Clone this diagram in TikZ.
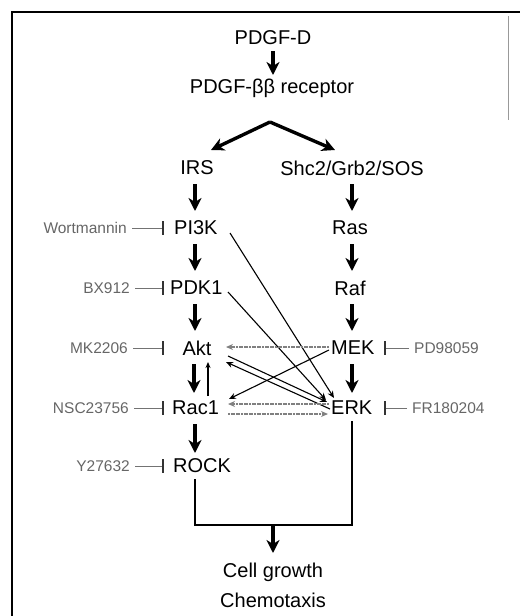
\documentclass[tikz,border=0pt]{standalone}
\usepackage{fontspec}
\setmainfont{Liberation Sans}
\usetikzlibrary{arrows.meta}
\begin{document}
\begin{tikzpicture}[x=1pt,y=-1pt,
  lbl/.style={font=\fontsize{20}{22}\selectfont, inner sep=0pt},
  inh/.style={font=\fontsize{15.5}{17}\selectfont, text=black!60, inner sep=0pt},
  bigarrow/.style={line width=3.4pt, -{Stealth[length=13pt,width=13pt,inset=4pt]}},
  thinarrow/.style={line width=1.1pt, -{Stealth[length=7pt,width=6pt]}},
  greyarrow/.style={line width=1.4pt, black!50, dash pattern=on 2pt off 0.6pt, -{Stealth[length=7pt,width=6pt]}},
  inhline/.style={line width=0.8pt, black!55},
  bar/.style={line width=1.1pt, black!80}
]
\useasboundingbox (0,0) rectangle (520,616);
% frame
\draw[line width=1.6pt] (12,616) -- (12,12) -- (520,12);
\draw[line width=0.7pt, black!40] (508,16) -- (508,120);

% main nodes
\node[lbl] (pdgfd) at (273,38) {PDGF-D};
\node[lbl] (rec) at (272,88) {PDGF-ββ receptor};
\node[lbl] (irs) at (197,168) {IRS};
\node[lbl] (shc) at (352,168) {Shc2/Grb2/SOS};
\node[lbl, anchor=west] (pi3k) at (174,228) {PI3K};
\node[lbl] (ras) at (350,228) {Ras};
\node[lbl, anchor=west] (pdk1) at (170,288) {PDK1};
\node[lbl] (raf) at (350,288) {Raf};
\node[lbl] (akt) at (197,348) {Akt};
\node[lbl, anchor=west] (mek) at (331,348) {MEK};
\node[lbl, anchor=west] (rac1) at (172,408) {Rac1};
\node[lbl, anchor=west] (erk) at (331,408) {ERK};
\node[lbl, anchor=west] (rock) at (173,466) {ROCK};
\node[lbl] (cell) at (273,572) {Cell growth};
\node[lbl] (chemo) at (273,600) {Chemotaxis};

% inhibitor labels
\node[inh, anchor=east] (wort) at (127,228) {Wortmannin};
\node[inh, anchor=east] (bx) at (130,288) {BX912};
\node[inh, anchor=east] (mk) at (128,348) {MK2206};
\node[inh, anchor=east] (nsc) at (129,408) {NSC23756};
\node[inh, anchor=east] (y27) at (130,466) {Y27632};
\node[inh, anchor=west] (pd) at (414,348) {PD98059};
\node[inh, anchor=west] (fr) at (412,408) {FR180204};

% inhibition bars
\foreach \n/\y in {wort/228, bx/288, mk/348, nsc/408, y27/466} {
  \coordinate (\n b) at (163,\y);
  \draw[inhline] (\n.east) ++(5,0) -- (\n b);
  \draw[bar] (\n b) ++(0,-7) -- ++(0,14);
}
\coordinate (pdb) at (385,348);
\draw[inhline] (pd.west) ++(-5,0) -- (pdb);
\draw[bar] (pdb) ++(0,-7) -- ++(0,14);
\coordinate (frb) at (385,408);
\draw[inhline] (fr.west) ++(-5,0) -- (frb);
\draw[bar] (frb) ++(0,-7) -- ++(0,14);

% vertical thick arrows
\coordinate (a0) at (273,51);
\coordinate (a1) at (273,75);
\draw[bigarrow] (a0) -- (a1);
\coordinate (apex) at (270,122);
\coordinate (lt) at (211,150);
\coordinate (rt) at (335,150);
\draw[line width=3.4pt, -{Stealth[length=13pt,width=13pt,inset=4pt]}] (apex) -- (lt);
\draw[line width=3.4pt, -{Stealth[length=13pt,width=13pt,inset=4pt]}] (apex) -- (rt);
\draw[bigarrow] (195,184) -- (195,211);
\draw[bigarrow] (352,184) -- (352,211);
\draw[bigarrow] (195,244) -- (195,271);
\draw[bigarrow] (352,244) -- (352,271);
\draw[bigarrow] (195,304) -- (195,331);
\draw[bigarrow] (352,304) -- (352,331);
\draw[bigarrow] (194,364) -- (194,393);
\draw[bigarrow] (352,364) -- (352,393);
\draw[bigarrow] (195,424) -- (195,453);

% Rac1 -> Akt thin
\coordinate (ru0) at (208,396);
\coordinate (ru1) at (208,362);
\draw[line width=1.1pt, -{Stealth[length=6pt,width=5pt]}] (ru0) -- (ru1);

% crossing arrows
\coordinate (p3e) at (230,233);
\coordinate (pde) at (228,292);
\coordinate (e1) at (334,398);
\coordinate (e2) at (326,400);
\draw[thinarrow] (p3e) -- (e1);
\draw[thinarrow] (pde) -- (e2);
\coordinate (m1) at (329,347);
\draw[greyarrow] (m1) -- (226,347);
\coordinate (m2) at (329,350);
\draw[thinarrow] (m2) -- (229,399);
\draw[thinarrow] (228,356) -- (327,402);
\draw[thinarrow] (330,409) -- (226,362);
\draw[greyarrow] (329,404) -- (228,404);
\draw[greyarrow] (228,414) -- (328,414);

% bottom merge
\coordinate (bl) at (195,525);
\coordinate (br) at (352,525);
\coordinate (bm) at (273,525);
\draw[line width=2.8pt] (rock.south -| bl) ++(0,6) -- (bl) -- (br) -- ([yshift=-6pt]erk.south -| br);
\draw[bigarrow] (bm) -- (273,553);
\end{tikzpicture}
\end{document}
